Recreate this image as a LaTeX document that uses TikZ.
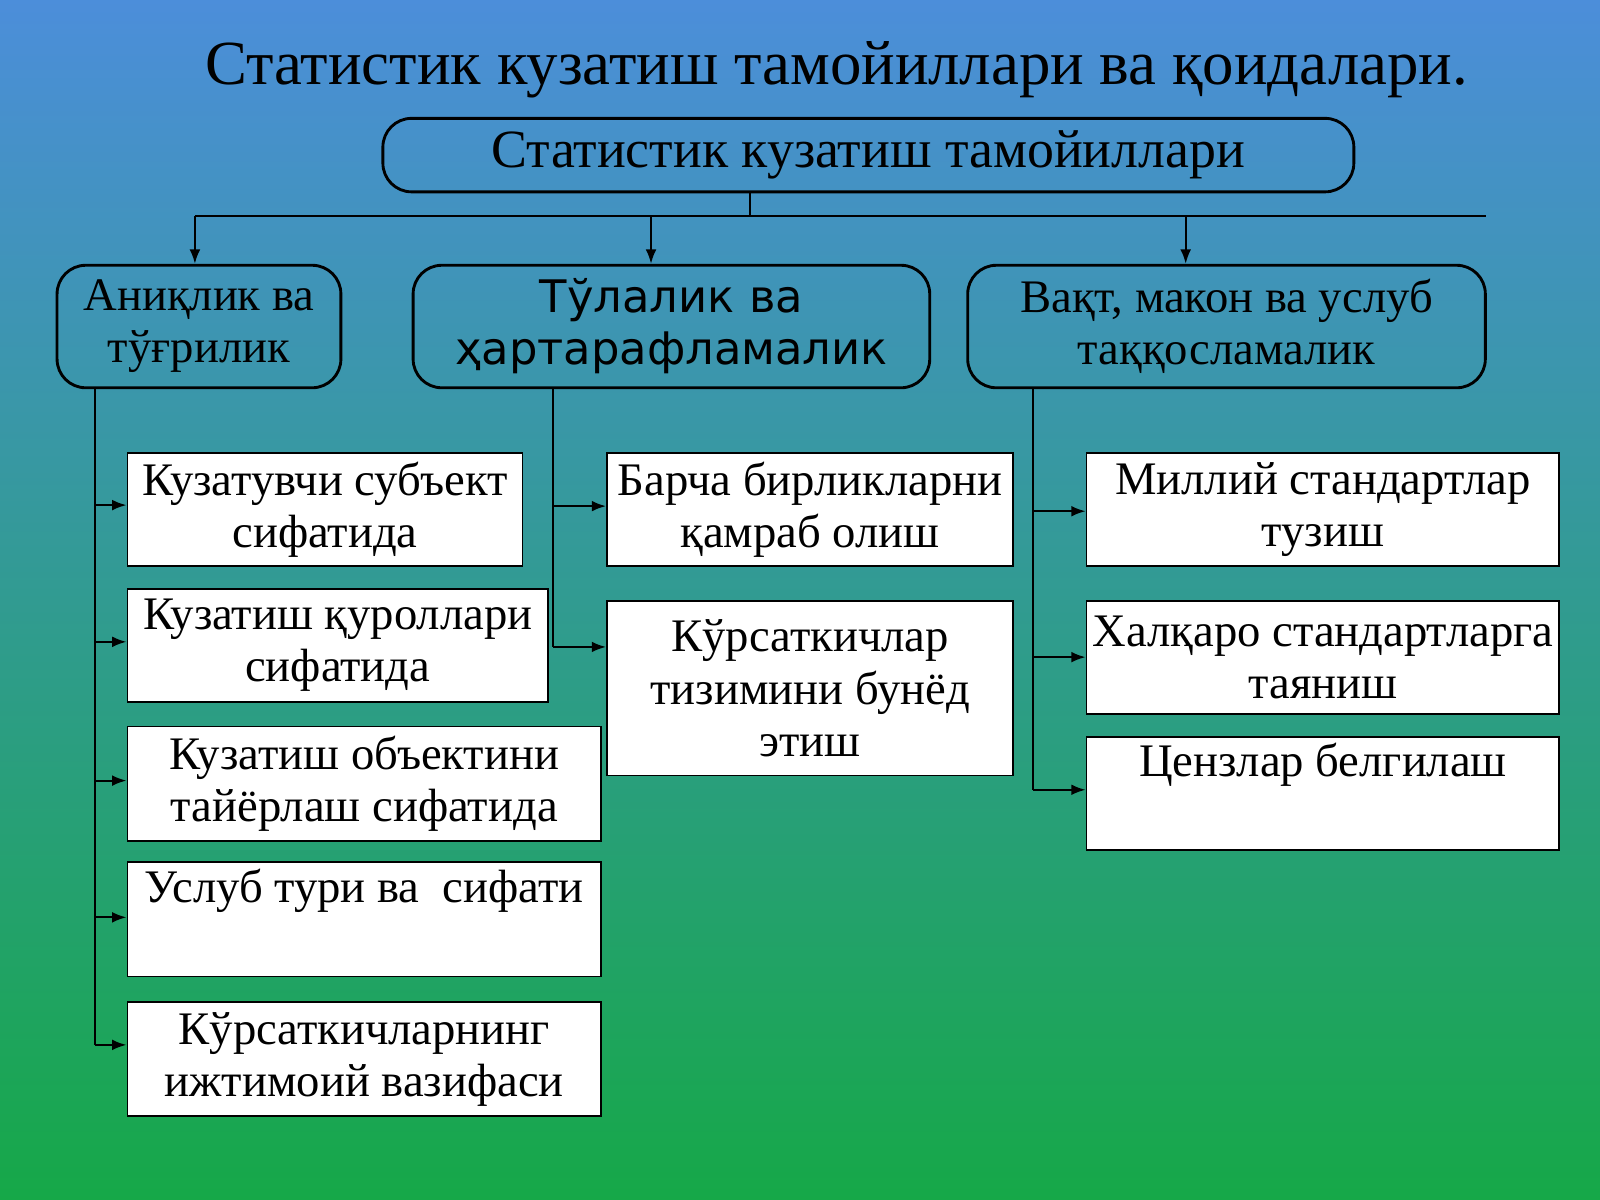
\documentclass[tikz,border=0pt]{standalone}
\usepackage{fontspec}
\setmainfont{Liberation Serif}
\newfontfamily\sansfont{DejaVu Sans}
\usetikzlibrary{arrows.meta}
\tikzset{
  head/.style={draw=black, rounded corners=8pt, line width=0.8pt, align=center, font=\fontsize{15}{17}\selectfont},
  kind/.style={draw=black, rounded corners=8pt, line width=0.8pt, align=center, font=\fontsize{13}{14.5}\selectfont},
  item/.style={draw=black, fill=white, line width=0.5pt, align=center, inner sep=0pt, font=\fontsize{13}{14.5}\selectfont},
  link/.style={line width=0.6pt, -{Latex[length=4pt,width=3pt]}}
}
\begin{document}
\begin{tikzpicture}[x=0.01cm, y=-0.01cm]
    \shade[top color={rgb,255:red,76;green,142;blue,218}, bottom color={rgb,255:red,22;green,168;blue,72}] (0,0) rectangle (1568,1176);
    \useasboundingbox (0,0) rectangle (1568,1176);

    % Titel
    \node[font=\fontsize{17.5}{20}\selectfont] at (820,68) (title) {Статистик кузатиш тамойиллари ва қоидалари.};
    \node[head, minimum width=9.51cm, minimum height=0.72cm] at (851,152) (root) {Статистик кузатиш тамойиллари};

    % Zweite Ebene
    \node[kind, minimum width=2.78cm, minimum height=1.2cm] at (195,320) (exact) {Аниқлик ва\\тўғрилик};
    \node[kind, minimum width=5.06cm, minimum height=1.2cm, font=\sansfont\fontsize{12.5}{14.5}\selectfont] at (658,320) (full) {Тўлалик ва\\ҳартарафламалик};
    \node[kind, minimum width=5.07cm, minimum height=1.2cm] at (1202,320) (time) {Вақт, макон ва услуб\\таққосламалик};

    % Verbindung oben
    \coordinate (bus) at (735,212);
    \coordinate (busend) at (1456,212);
    \draw[line width=0.6pt] (root.south -| bus) -- (bus);
    \draw[line width=0.6pt] (191,212) -- (busend);
    \draw[link] (191,212) -- (exact.north -| 191,0);
    \draw[link] (638,212) -- (full.north -| 638,0);
    \draw[link] (1162,212) -- (time.north -| 1162,0);

    % Linke Spalte
    \node[item, minimum width=3.87cm, minimum height=1.11cm] at (318.5,499.5) (a1) {Кузатувчи субъект\\сифатида};
    \node[item, minimum width=4.12cm, minimum height=1.11cm] at (331,632.5) (a2) {Кузатиш қуроллари\\сифатида};
    \node[item, minimum width=4.64cm, minimum height=1.12cm] at (357,768) (a3) {Кузатиш объектини\\тайёрлаш сифатида};
    \node[item, minimum width=4.64cm, minimum height=1.12cm] at (357,901) (a4) {Услуб тури ва \ сифати\\ \strut};
    \node[item, minimum width=4.64cm, minimum height=1.12cm] at (357,1038) (a5) {Кўрсаткичларнинг\\ижтимоий вазифаси};

    % Mittlere Spalte
    \node[item, minimum width=3.98cm, minimum height=1.11cm] at (794,499.5) (b1) {Барча бирликларни\\қамраб олиш};
    \node[item, minimum width=3.98cm, minimum height=1.71cm] at (794,674.5) (b2) {Кўрсаткичлар\\тизимини бунёд\\этиш};

    % Rechte Spalte
    \node[item, minimum width=4.63cm, minimum height=1.11cm] at (1296.5,499.5) (c1) {Миллий стандартлар\\тузиш};
    \node[item, minimum width=4.63cm, minimum height=1.11cm] at (1296.5,644.5) (c2) {Халқаро стандартларга\\таяниш};
    \node[item, minimum width=4.63cm, minimum height=1.11cm] at (1296.5,777.5) (c3) {Цензлар белгилаш\\ \strut};

    % Pfeile links
    \draw[line width=0.6pt] (93,380) -- (93,1024);
    \foreach \n/\y in {a1/495, a2/629, a3/765, a4/899, a5/1024}
        \draw[link] (93,\y) -- (\n.west |- 93,\y);

    % Pfeile Mitte
    \draw[line width=0.6pt] (542,380) -- (542,634);
    \foreach \n/\y in {b1/496, b2/634}
        \draw[link] (542,\y) -- (\n.west |- 542,\y);

    % Pfeile rechts
    \draw[line width=0.6pt] (1012,380) -- (1012,774);
    \foreach \n/\y in {c1/501, c2/644, c3/774}
        \draw[link] (1012,\y) -- (\n.west |- 1012,\y);

\end{tikzpicture}
\end{document}
